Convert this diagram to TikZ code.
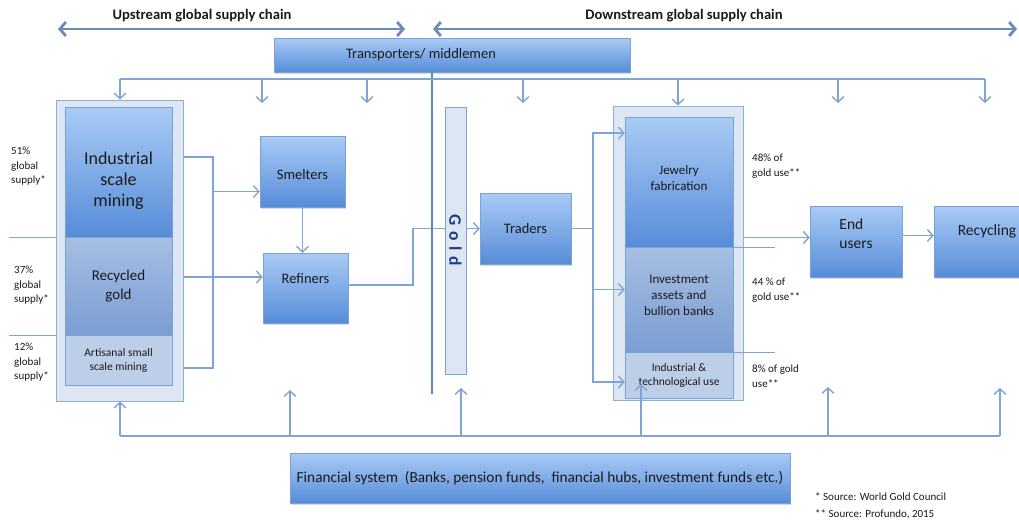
\documentclass[tikz,border=0pt]{standalone}
\usepackage{fontspec}
\setmainfont{Carlito}
\usetikzlibrary{arrows.meta,shadows}

\definecolor{boxtop}{HTML}{A9CBF5}
\definecolor{boxbot}{HTML}{578CD8}
\definecolor{boxline}{HTML}{7AA2D6}
\definecolor{midtop}{HTML}{A6BFE4}
\definecolor{midbot}{HTML}{7B9DD2}
\definecolor{lowfill}{HTML}{BCCEE8}
\definecolor{contfill}{HTML}{DDE7F3}
\definecolor{lnk}{HTML}{7EA5D6}
\definecolor{divcol}{HTML}{5C87C4}
\definecolor{goldtxt}{HTML}{1F3C85}
\definecolor{txt}{HTML}{1A1A1A}

\newcommand\fs[2]{\fontsize{#1}{#2}\selectfont}

\begin{document}
\begin{tikzpicture}[
    x=1pt, y=-1pt,
    stack/.style={
        draw=boxline,
        top color=boxtop,
        bottom color=boxbot,
        inner sep=0pt,
        align=center,
        text=txt
    },
    blk/.style={
        stack,
        drop shadow={shadow xshift=1pt, shadow yshift=-2pt, opacity=0.3}
    },
    midblk/.style={
        stack,
        top color=midtop,
        bottom color=midbot
    },
    lowblk/.style={
        draw=boxline,
        fill=lowfill,
        inner sep=0pt,
        align=center,
        text=txt
    },
    holder/.style={
        draw=boxline!85,
        fill=contfill,
        line width=1pt,
        inner sep=0pt
    },
    link/.style={
        lnk,
        line width=1.4pt
    },
    arr/.style={
        link,
        -{Straight Barb[length=5.5pt,width=12pt]}
    },
    bigarr/.style={
        lnk!85!black,
        line width=2.8pt,
        {Straight Barb[length=6pt,width=14pt]}-{Straight Barb[length=6pt,width=14pt]}
    },
    note/.style={
        align=left,
        font=\fs{11}{14.5},
        inner sep=0pt,
        text=txt
    },
    head/.style={
        font=\bfseries\fs{14.6}{17},
        text=txt
    }
]
\useasboundingbox (0,0) rectangle (1019,523);

% chain headings
\coordinate (upL) at (58,29);
\coordinate (upR) at (405,29);
\coordinate (dnL) at (433,29);
\coordinate (dnR) at (1017,29);
\node[head] (uplab) at (202,16) {Upstream global supply chain};
\node[head] (dnlab) at (684,16) {Downstream global supply chain};
\draw[bigarr] (upL) -- (upR);
\draw[bigarr] (dnL) -- (dnR);

% transporters
\node[blk, minimum width=356, minimum height=34, font=\fs{14.5}{16}] (trans) at (452,55)
    {Transporters/ middlemen\hspace*{62pt}};

% upstream boxes
\node[holder, minimum width=127, minimum height=301] (outerL) at (119.5,250.5) {};
\node[stack, minimum width=107, minimum height=130, font=\fs{18}{21}] (ind) at (118.5,172)
    {\rule{0pt}{31pt}Industrial\\scale\\mining};
\node[midblk, minimum width=107, minimum height=98, font=\fs{15}{19.5}] (recy) at (118.5,286)
    {Recycled\\gold};
\node[lowblk, minimum width=107, minimum height=50, font=\fs{11.5}{14}] (art) at (118.5,360)
    {Artisanal small\\scale mining};

\node[blk, minimum width=85, minimum height=71, font=\fs{14.5}{17}, text height=17pt] (smelt) at (302.5,171.5) {Smelters};
\node[blk, minimum width=85, minimum height=70, font=\fs{14.5}{17}, text depth=19pt] (refin) at (305.5,288) {Refiners};
\node[blk, minimum width=91, minimum height=71, font=\fs{14.5}{17}] (traders) at (525.5,228.5) {Traders};

% refiners to traders (under the gold bar)
\coordinate (rk) at (413,260);
\draw[arr] ([yshift=3pt]refin.east) -| (rk) |- (traders.west);

% gold bar and divider
\node[draw=boxline, fill=contfill, minimum width=267, minimum height=21, inner sep=0pt,
    rotate=-90, text=goldtxt, font=\bfseries\fs{17.5}{19}\addfontfeature{LetterSpace=32}] (gold) at (455.5,240.5) {Gold};
\coordinate (divB) at (432,394);
\draw[divcol, line width=2.4pt] (trans.south -| divB) -- (divB);

% downstream boxes
\node[holder, minimum width=130, minimum height=294] (outerR) at (678,253) {};
\node[stack, minimum width=108, minimum height=130, font=\fs{13}{16.5}] (jew) at (679,182)
    {Jewelry\\fabrication\\[-8pt]};
\node[midblk, minimum width=108, minimum height=105, font=\fs{13}{16}] (inv) at (679,299.5)
    {Investment\\assets and\\bullion banks\\[-8pt]};
\node[lowblk, minimum width=108, minimum height=46, font=\fs{11.5}{14}] (itu) at (679,375)
    {Industrial \&\\technological use};
\node[blk, minimum width=92, minimum height=71, font=\fs{15.5}{19}, align=left] (endu) at (856,241.5)
    {End\\users\\[-4pt]};
\node[blk, minimum width=106, minimum height=71, font=\fs{15.5}{19}, text depth=22pt] (recyc) at (987,241.5) {Recycling};

% financial system
\node[blk, minimum width=500, minimum height=50, font=\fs{15.3}{18}] (fin) at (540,478)
    {Financial system\ \ (Banks, pension funds,\ \ financial hubs, investment funds etc.)};

% shares
\node[note, anchor=north west] (s51) at (11,147) {51\%\\global\\supply*};
\node[note, anchor=north west] (s37) at (14,266) {37\%\\global\\supply*};
\node[note, anchor=north west] (s12) at (14,343) {12\%\\global\\supply*};
\node[note, anchor=north west] (u48) at (752,154) {48\% of\\gold use**};
\node[note, anchor=north west] (u44) at (752,278) {44 \% of\\gold use**};
\node[note, anchor=north west] (u8) at (752,365) {8\% of gold\\use**};
\node[note, anchor=west] (src1) at (815,497) {* Source: World Gold Council};
\node[note, anchor=west] (src2) at (815,514) {** Source: Profundo, 2015};

\draw[link] (outerL.west |- ind.south) -- ++(-47,0);
\draw[link] (outerL.west |- recy.south) -- ++(-47,0);
\draw[link] (jew.south east) -- ++(42,0);
\draw[link] (inv.south east) -- ++(42,0);

% distribution from transporters
\coordinate (dL) at (120,79);
\coordinate (dR) at (985,79);
\draw[link] (dL) -- (dR);
\draw[arr] (dL) -- (outerL.north -| dL);
\draw[arr] (outerR.north |- dL) -- (outerR.north);
\foreach \x in {262,367,523,838,985} {
    \coordinate (drop\x) at (\x,103);
    \draw[arr] (drop\x |- dL) -- (drop\x);
}

% financial links
\coordinate (bL) at (120,436);
\coordinate (bR) at (1000,436);
\draw[link] (bL) -- (bR);
\draw[arr] (bL) -- (outerL.south -| bL);
\foreach \x/\y in {290/390,461/388,641/384,828/387,1000/388} {
    \coordinate (rise\x) at (\x,\y);
    \draw[arr] (rise\x |- bL) -- (rise\x);
}

% upstream flows
\coordinate (brk) at (213,157);
\coordinate (brkB) at (213,368);
\draw[link] (outerL.east |- brk) -- (brk) -- (brkB) -- (outerL.east |- brkB);
\coordinate (smIn) at ([yshift=-20pt]smelt.west);
\draw[arr] (brk |- smIn) -- (smIn);
\coordinate (rfIn) at ([yshift=11pt]refin.west);
\draw[arr] (outerL.east |- rfIn) -- (rfIn);
\draw[arr] (smelt.south) -- (smelt.south |- refin.north);

% downstream flows
\coordinate (tk) at (593,228.5);
\draw[link] (traders.east) -- (tk);
\draw[arr] (tk) |- ([yshift=49pt]jew.west);
\draw[arr] (tk) |- ([yshift=10pt]inv.west);
\draw[arr] (tk) |- ([yshift=-7pt]itu.west);
\coordinate (euIn) at ([yshift=4pt]endu.west);
\draw[arr] (outerR.east |- euIn) -- (euIn);
\draw[arr] ([yshift=6pt]endu.east) -- ([yshift=6pt]recyc.west);

\end{tikzpicture}
\end{document}
